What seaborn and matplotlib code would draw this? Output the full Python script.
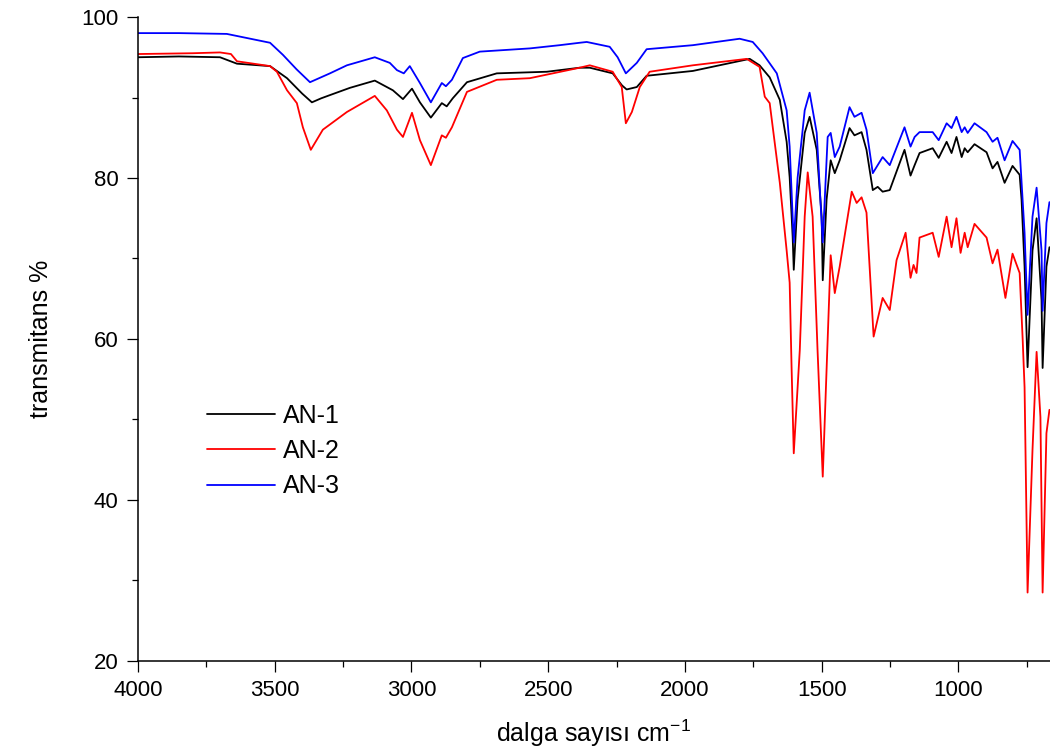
import matplotlib
matplotlib.use("Agg")
import matplotlib.pyplot as plt
from matplotlib.ticker import MultipleLocator
import seaborn as sns
import pandas as pd

# wavenumber (cm-1) / transmittance (%)
an1_wn = [4000, 3850, 3700, 3638, 3517, 3455, 3400, 3364, 3330, 3298, 3225, 3134, 3068, 3031,
          2998, 2969, 2929, 2889, 2871, 2849, 2797, 2688, 2505, 2385, 2348, 2264, 2230, 2213,
          2176, 2140, 1971, 1763, 1727, 1690, 1653, 1628, 1617, 1606, 1602, 1588, 1562, 1544,
          1518, 1500, 1496, 1482, 1467, 1452, 1434, 1398, 1380, 1354, 1336, 1313, 1295, 1277,
          1251, 1197, 1175, 1160, 1142, 1094, 1072, 1043, 1025, 1007, 988, 977, 966, 941, 897,
          875, 857, 831, 802, 776, 769, 758, 747, 729, 714, 696, 692, 678, 667]
an1_t = [95.0, 95.1, 95.0, 94.2, 93.9, 92.4, 90.5, 89.4, 89.9, 90.3, 91.2, 92.1, 90.9, 89.8,
         91.1, 89.4, 87.5, 89.3, 88.9, 89.9, 91.9, 93.0, 93.2, 93.7, 93.7, 93.0, 91.5, 91.0,
         91.3, 92.7, 93.3, 94.8, 94.0, 92.5, 89.7, 84.5, 80.1, 72.7, 68.6, 77.3, 85.6, 87.6,
         83.5, 75.2, 67.3, 77.3, 82.2, 80.6, 82.2, 86.2, 85.3, 85.7, 83.5, 78.5, 78.9, 78.3,
         78.5, 83.5, 80.3, 81.6, 83.1, 83.7, 82.5, 84.5, 83.1, 85.1, 82.6, 83.7, 83.2, 84.2, 83.2,
         81.2, 82.0, 79.4, 81.5, 80.4, 77.3, 69.0, 56.5, 71.0, 75.0, 64.8, 56.4, 69.0, 71.4]

an2_wn = [4000, 3800, 3700, 3660, 3638, 3517, 3492, 3455, 3419, 3397, 3368, 3324, 3236, 3134,
          3090, 3053, 3031, 2998, 2969, 2929, 2889, 2874, 2852, 2797, 2688, 2567, 2385, 2348,
          2264, 2231, 2216, 2194, 2165, 2129, 1971, 1774, 1727, 1708, 1690, 1653, 1628, 1617,
          1610, 1602, 1580, 1562, 1551, 1533, 1515, 1496, 1467, 1452, 1434, 1390, 1372, 1354,
          1336, 1310, 1277, 1251, 1226, 1193, 1175, 1164, 1153, 1142, 1094, 1072, 1043, 1025,
          1007, 992, 977, 966, 941, 897, 875, 857, 828, 802, 776, 765, 758, 747, 729, 714, 700,
          692, 678, 667]
an2_t = [95.4, 95.5, 95.6, 95.4, 94.5, 93.9, 93.2, 90.9, 89.3, 86.3, 83.5, 86.0, 88.2, 90.2,
         88.4, 86.0, 85.1, 88.1, 84.7, 81.6, 85.3, 85.0, 86.3, 90.7, 92.2, 92.4, 93.7, 94.0,
         93.2, 91.3, 86.8, 88.2, 91.3, 93.2, 94.0, 94.8, 93.8, 90.1, 89.3, 79.4, 71.0, 67.0,
         56.5, 45.8, 58.6, 75.2, 80.7, 75.2, 58.6, 42.9, 70.4, 65.7, 69.0, 78.3, 76.9, 77.6,
         75.7, 60.3, 65.1, 63.6, 69.8, 73.2, 67.6, 69.2, 68.2, 72.6, 73.2, 70.2, 75.2, 71.4,
         75.0, 70.7, 73.2, 71.4, 74.3, 72.6, 69.4, 71.1, 65.1, 70.6, 68.2, 60.0, 54.0, 28.5, 46.2,
         58.4, 50.3, 28.5, 48.3, 51.2]

an3_wn = [4000, 3850, 3675, 3517, 3470, 3420, 3371, 3298, 3236, 3134, 3079, 3053, 3028, 3006,
          2969, 2929, 2889, 2874, 2852, 2812, 2750, 2567, 2458, 2385, 2359, 2275, 2246, 2216,
          2176, 2140, 1971, 1800, 1752, 1716, 1664, 1628, 1617, 1602, 1588, 1562, 1544, 1518,
          1496, 1478, 1467, 1452, 1434, 1398, 1380, 1354, 1336, 1313, 1277, 1251, 1197, 1175,
          1160, 1142, 1094, 1072, 1043, 1025, 1007, 988, 977, 966, 941, 897, 875, 857, 831, 802,
          776, 758, 747, 729, 714, 696, 692, 678, 667]
an3_t = [98.0, 98.0, 97.9, 96.8, 95.3, 93.5, 91.9, 93.0, 94.0, 95.0, 94.3, 93.4, 93.0, 93.9,
         91.8, 89.4, 91.8, 91.4, 92.2, 94.9, 95.7, 96.1, 96.5, 96.8, 96.9, 96.3, 95.0, 93.0,
         94.3, 96.0, 96.5, 97.3, 96.9, 95.5, 93.0, 88.4, 83.9, 72.0, 80.0, 88.4, 90.6, 85.6,
         72.0, 85.1, 85.6, 82.6, 83.9, 88.8, 87.6, 88.1, 86.0, 80.6, 82.6, 81.6, 86.3, 83.9,
         85.1, 85.7, 85.7, 84.7, 86.8, 86.2, 87.6, 85.7, 86.3, 85.6, 86.8, 85.7, 84.5, 85.0, 82.2,
         84.6, 83.5, 73.2, 63.0, 75.2, 78.8, 71.0, 63.5, 74.4, 77.0]

labels = ["AN-1", "AN-2", "AN-3"]
colors = {"AN-1": "black", "AN-2": "#ff0000", "AN-3": "#0000ff"}

df = pd.concat([
    pd.DataFrame({"wn": an1_wn, "T": an1_t, "sample": "AN-1"}),
    pd.DataFrame({"wn": an2_wn, "T": an2_t, "sample": "AN-2"}),
    pd.DataFrame({"wn": an3_wn, "T": an3_t, "sample": "AN-3"}),
])

sns.set_style("ticks")
plt.rcParams["font.family"] = ["Liberation Sans", "DejaVu Sans"]
plt.rcParams["mathtext.fontset"] = "custom"
plt.rcParams["mathtext.rm"] = "Liberation Sans"
for key in ["text.color", "axes.labelcolor", "xtick.color", "ytick.color", "axes.edgecolor"]:
    plt.rcParams[key] = "black"

fig = plt.figure(figsize=(10.5, 7.56), dpi=100)
ax = fig.add_axes([0.1314, 0.1257, 0.8686, 0.8518])

sns.lineplot(data=df, x="wn", y="T", hue="sample", hue_order=labels, palette=colors,
             estimator=None, linewidth=1.3, ax=ax)

ax.set_xlim(4000, 665)
ax.set_ylim(20, 100)
ax.xaxis.set_major_locator(MultipleLocator(500))
ax.xaxis.set_minor_locator(MultipleLocator(250))
ax.yaxis.set_major_locator(MultipleLocator(20))
ax.yaxis.set_minor_locator(MultipleLocator(10))
ax.tick_params(which="major", direction="out", length=8, width=0.9, labelsize=16, pad=6)
ax.tick_params(which="minor", direction="out", length=4.5, width=0.9)
for s in ["left", "bottom"]:
    ax.spines[s].set_linewidth(1.1)
sns.despine(ax=ax)

ax.set_xlabel(r"dalga sayısı cm$^{\mathregular{-1}}$", fontsize=18, labelpad=12)
ax.set_ylabel("transmitans %", fontsize=18, labelpad=20)

ax.legend(loc="center left", bbox_to_anchor=(0.0757, 0.326), frameon=False,
          fontsize=18, handlelength=2.7, handletextpad=0.35, labelspacing=0.45,
          borderpad=0, borderaxespad=0)

fig.savefig("out.png", dpi=100)
